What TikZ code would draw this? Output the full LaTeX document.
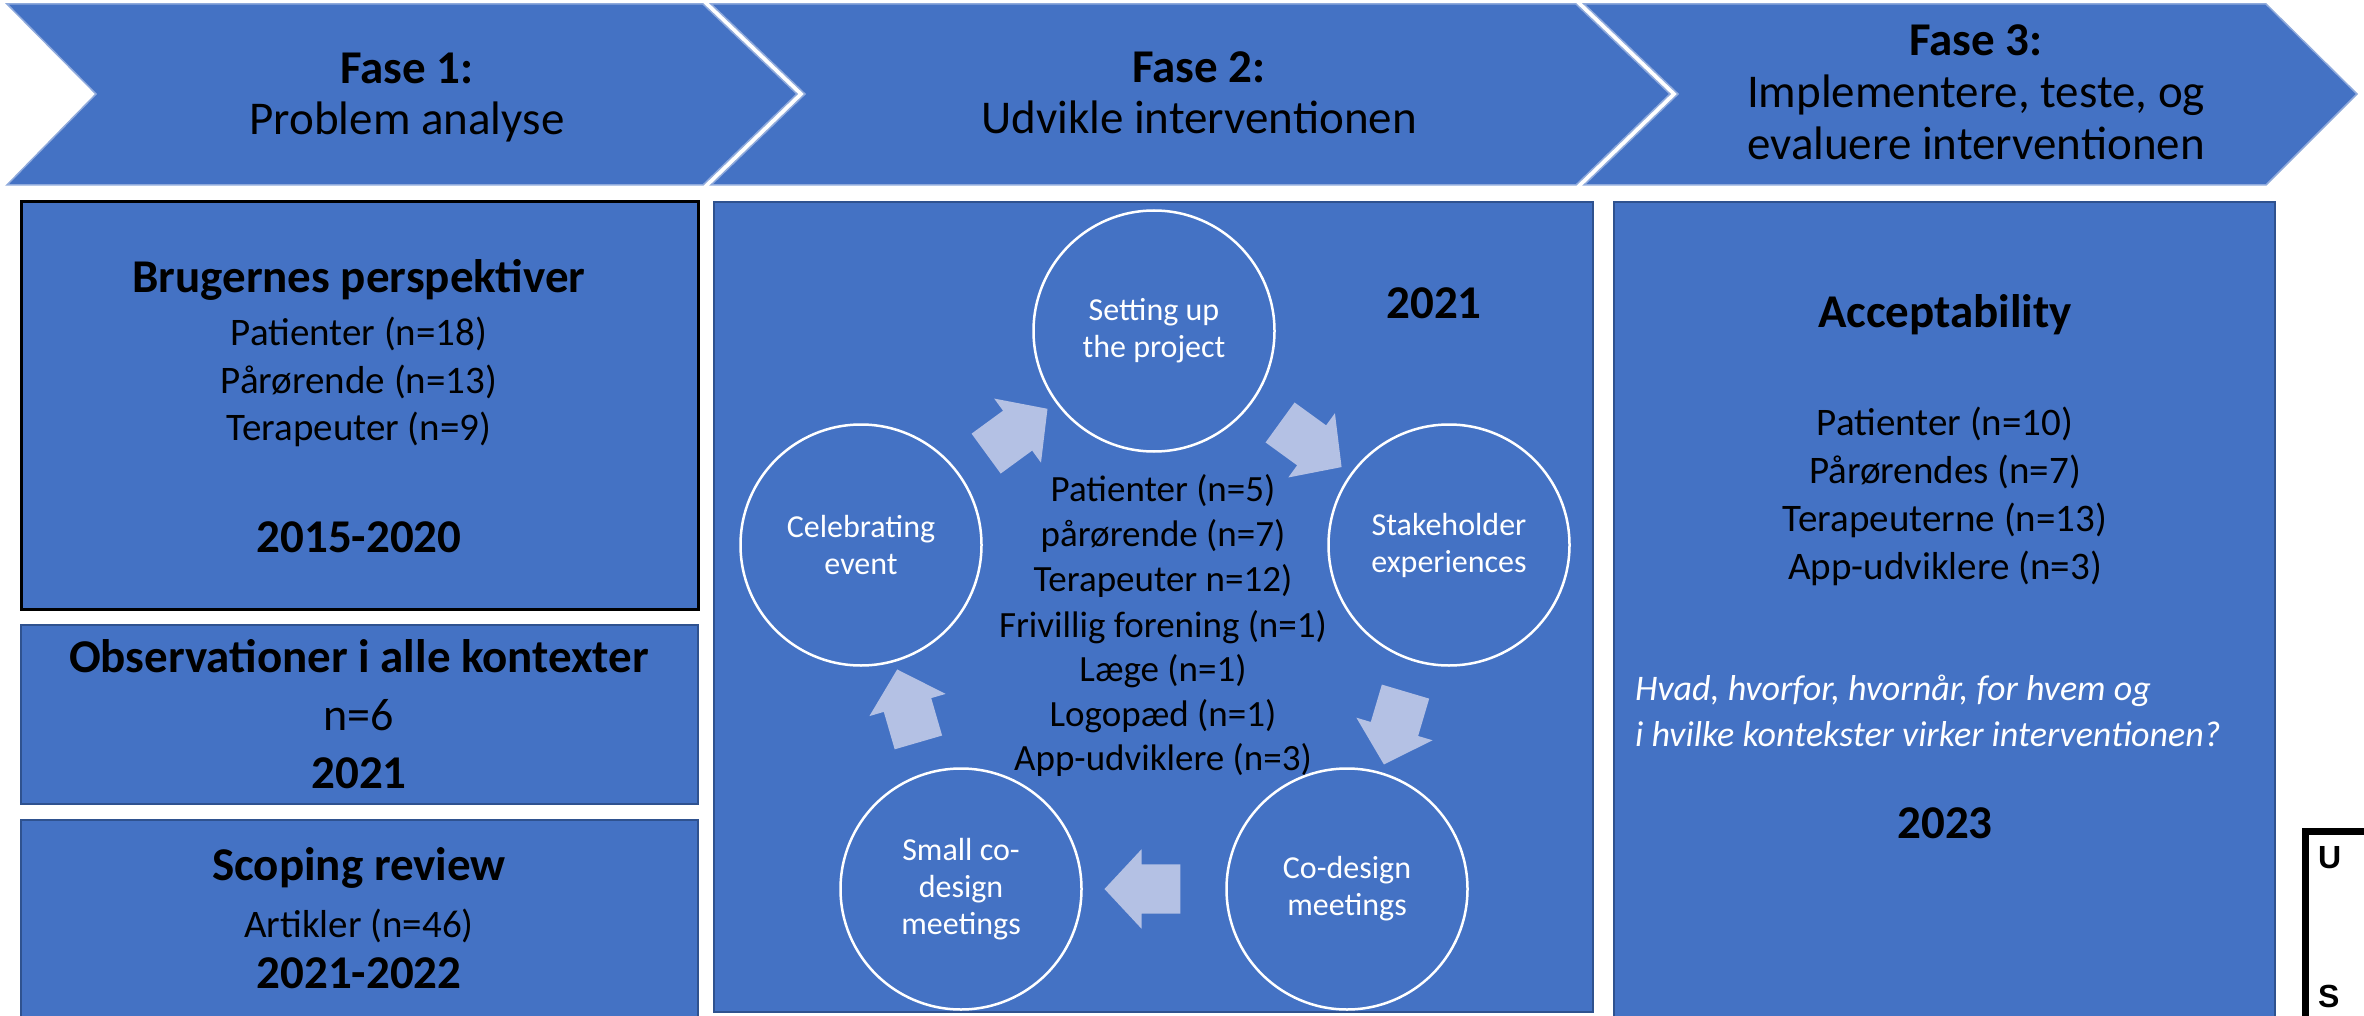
\documentclass[tikz,border=0pt]{standalone}
\usepackage{fontspec}
\setmainfont{Carlito}
\newfontfamily\lsans{Liberation Sans}
\usetikzlibrary{shapes.arrows,calc}
\definecolor{bluefill}{RGB}{68,114,196}
\definecolor{darkedge}{RGB}{47,82,143}
\definecolor{chevedge}{RGB}{143,170,220}
\definecolor{arrowfill}{RGB}{180,193,228}
\tikzset{
  chev/.style={fill=bluefill, draw=chevedge, line width=1.5},
  panel/.style={fill=bluefill, draw=darkedge, line width=2.5, anchor=north west, inner sep=0, outer sep=0},
  reg/.style={anchor=base, inner sep=0, font=\fontsize{39}{47}\selectfont},
  regbig/.style={anchor=base, inner sep=0, font=\fontsize{46}{55}\selectfont},
  head/.style={anchor=base, inner sep=0, font=\fontsize{47}{56}\selectfont\bfseries},
  chevreg/.style={anchor=base, inner sep=0, font=\fontsize{47}{56}\selectfont},
  listtxt/.style={anchor=base, inner sep=0, font=\fontsize{37}{45}\selectfont},
  ital/.style={anchor=base west, inner sep=0, text=white, font=\fontsize{36}{44}\selectfont\itshape},
  cyc/.style={circle, draw=white, line width=2.5, minimum size=241, inner sep=0, text=white, align=center, font=\fontsize{32}{37}\selectfont},
  cycarrow/.style={single arrow, fill=arrowfill, draw=none, minimum height=76, minimum width=0, text width=0, text height=49, text depth=0, single arrow head extend=15, single arrow tip angle=94, inner sep=0, outer sep=0},
  usmark/.style={anchor=base west, inner sep=0, font=\lsans\fontsize{32}{38}\selectfont\bfseries}
}
\begin{document}
\begin{tikzpicture}[x=1pt, y=-1pt]
\useasboundingbox (0,0) rectangle (2364,1016);
% chevrons
\draw[chev] (7,4) -- (703,4) -- (797,94) -- (703,185) -- (7,185) -- (96,94) -- cycle;
\draw[chev] (711,4) -- (1576,4) -- (1670,94) -- (1576,185) -- (711,185) -- (805,94) -- cycle;
\draw[chev] (1584,4) -- (2266,4) -- (2357,94) -- (2266,185) -- (1584,185) -- (1678,94) -- cycle;
\node[head] (f1) at (407,84) {Fase 1:};
\node[chevreg] (f1b) at (407,135) {Problem analyse};
\node[head] (f2) at (1199,83) {Fase 2:};
\node[chevreg] (f2b) at (1199,134) {Udvikle interventionen};
\node[head] (f3) at (1976,56) {Fase 3:};
\node[chevreg] (f3b) at (1976,108) {Implementere, teste, og};
\node[chevreg] (f3c) at (1976,160) {evaluere interventionen};
% left panels
\node[panel, draw=black, line width=3, minimum width=677, minimum height=407] (boxA) at (21,202) {};
\node[panel, minimum width=677, minimum height=179] (boxB) at (21,625) {};
\node[panel, minimum width=677, minimum height=210] (boxC) at (21,820) {};
\node[head] (a1) at (359,293) {Brugernes perspektiver};
\node[reg] (a2) at (359,345) {Patienter (n=18)};
\node[reg] (a3) at (359,393) {Pårørende (n=13)};
\node[reg] (a4) at (359,440) {Terapeuter (n=9)};
\node[head] (a5) at (359,552) {2015-2020};
\node[head] (b1) at (359,672) {Observationer i alle kontexter};
\node[regbig] (b2) at (359,730) {n=6};
\node[head] (b3) at (359,788) {2021};
\node[head] (c1) at (359,880) {Scoping review};
\node[reg] (c2) at (359,937) {Artikler (n=46)};
\node[head] (c3) at (359,988) {2021-2022};
% middle panel
\node[panel, minimum width=879, minimum height=810] (boxM) at (714,202) {};
\node[head] (m0) at (1434,319) {2021};
\node[cyc] (su) at (1154,331) {Setting up\\the project};
\node[cyc] (st) at (1449,545) {Stakeholder\\experiences};
\node[cyc] (co) at (1347,889) {Co-design\\meetings};
\node[cyc] (sm) at (961,889) {Small co-\\design\\meetings};
\node[cyc] (ce) at (861,545) {Celebrating\\event};
\foreach \src/\tgt/\aname in {ce/su/ar1, su/st/ar2, st/co/ar3, co/sm/ar4, sm/ce/ar5}{
  \path let \p1=(\src.center), \p2=(\tgt.center), \n1={atan2(\y2-\y1,\x2-\x1)} in
    node[cycarrow, rotate=\n1] (\aname) at ($(\p1)!0.5!(\p2)$) {};
}
\node[listtxt] (l1) at (1163,501) {Patienter (n=5)};
\node[listtxt] (l2) at (1163,546) {pårørende (n=7)};
\node[listtxt] (l3) at (1163,591) {Terapeuter n=12)};
\node[listtxt] (l4) at (1163,637) {Frivillig forening (n=1)};
\node[listtxt] (l5) at (1163,681) {Læge (n=1)};
\node[listtxt] (l6) at (1163,726) {Logopæd (n=1)};
\node[listtxt] (l7) at (1163,770) {App-udviklere (n=3)};
% right panel
\node[panel, minimum width=661, minimum height=830] (boxR) at (1614,202) {};
\node[head] (r1) at (1945,327) {Acceptability};
\node[reg] (r2) at (1945,435) {Patienter (n=10)};
\node[reg] (r3) at (1945,483) {Pårørendes (n=7)};
\node[reg] (r4) at (1945,531) {Terapeuterne (n=13)};
\node[reg] (r5) at (1945,579) {App-udviklere (n=3)};
\node[ital] (r6) at (1635,700) {Hvad, hvorfor, hvornår, for hvem og};
\node[ital] (r7) at (1635,746) {i hvilke kontekster virker interventionen?};
\node[head] (r8) at (1945,838) {2023};
% corner mark
\coordinate (bk1) at (2305,1030);
\coordinate (bk2) at (2305,831.5);
\coordinate (bk3) at (2370,831.5);
\draw[line width=7] (bk1) -- (bk2) -- (bk3);
\node[usmark] (mu) at (2318,868) {U};
\node[usmark] (ms) at (2318,1007) {S};
\end{tikzpicture}
\end{document}
